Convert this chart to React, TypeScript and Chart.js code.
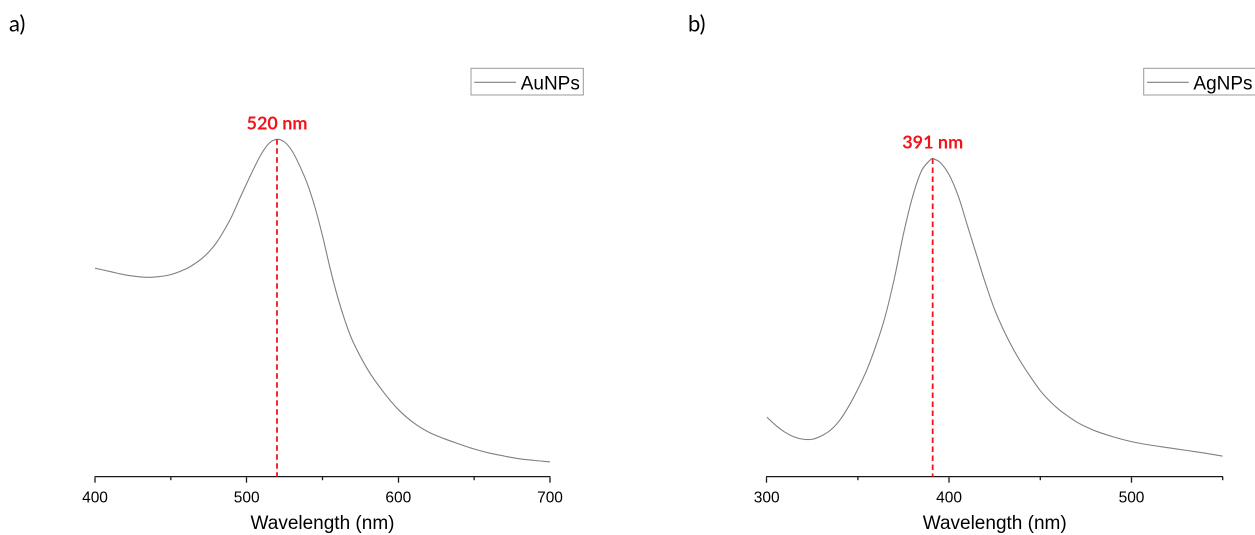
import React, { useEffect, useRef } from 'react';
import { Chart, registerables } from 'chart.js';

Chart.register(...registerables);

// ---- Data ----
const auWavelengths = [400, 410, 420, 430, 435, 440, 450, 460, 465, 470, 475, 480, 485, 490, 495, 500, 505, 510, 515, 520, 525, 530, 535, 540, 545, 550, 555, 560, 565, 570, 580, 590, 600, 610, 620, 630, 640, 650, 660, 670, 680, 690, 700];
const auAbsorbance = [0.618, 0.608, 0.598, 0.592, 0.591, 0.592, 0.599, 0.616, 0.629, 0.645, 0.666, 0.693, 0.729, 0.77, 0.82, 0.869, 0.916, 0.959, 0.989, 1.0, 0.992, 0.965, 0.921, 0.868, 0.799, 0.714, 0.618, 0.532, 0.46, 0.401, 0.316, 0.252, 0.199, 0.16, 0.132, 0.113, 0.097, 0.082, 0.07, 0.061, 0.053, 0.048, 0.044];

const agWavelengths = [300, 305, 310, 315, 320, 325, 330, 335, 340, 345, 350, 355, 360, 365, 370, 375, 380, 385, 390, 391, 395, 400, 405, 410, 415, 420, 425, 430, 435, 440, 445, 450, 455, 460, 465, 470, 475, 480, 490, 500, 510, 520, 530, 540, 550];
const agAbsorbance = [0.177, 0.152, 0.132, 0.118, 0.111, 0.111, 0.121, 0.138, 0.167, 0.209, 0.26, 0.318, 0.39, 0.476, 0.588, 0.72, 0.83, 0.908, 0.941, 0.943, 0.932, 0.895, 0.832, 0.745, 0.658, 0.572, 0.495, 0.433, 0.38, 0.334, 0.293, 0.255, 0.225, 0.2, 0.18, 0.162, 0.148, 0.136, 0.118, 0.104, 0.094, 0.086, 0.078, 0.07, 0.061];

const auMajorTicks = [400, 500, 600, 700];
const auMinorTicks = [450, 550, 650];
const agMajorTicks = [300, 400, 500];
const agMinorTicks = [350, 450, 550];

const auPeak = 520;
const agPeak = 391;
const auPeakLabel = '520 nm';
const agPeakLabel = '391 nm';
const auLegend = 'AuNPs';
const agLegend = 'AgNPs';
const xTitle = 'Wavelength (nm)';

// ---- Layout ----
const H = 535;
const AXIS_Y = 476.7;
const Y_MAX = 1.2;
const Y_UNIT = 337.4;
const TOP_PAD = AXIS_Y - Y_MAX * Y_UNIT;

type Spec = {
  wl: number[];
  abs: number[];
  xMin: number;
  xMax: number;
  major: number[];
  minor: number[];
  peak: number;
  peakLabel: string;
  legend: string;
  panel: string;
  panelX: number;
  width: number;
  padLeft: number;
  padRight: number;
};

const AXIS_COLOR = '#1a1a1a';
const CURVE_COLOR = '#808080';
const RED = '#f5101a';

function makeConfig(spec: Spec): any {
  const overlay = {
    id: 'overlay_' + spec.panel,
    afterDraw(chart: any) {
      const ctx = chart.ctx;
      const xs = chart.scales.x;
      const ys = chart.scales.y;
      const area = chart.chartArea;
      ctx.save();
      // minor ticks
      ctx.strokeStyle = AXIS_COLOR;
      ctx.lineWidth = 1.3;
      spec.minor.forEach((v) => {
        const x = xs.getPixelForValue(v);
        ctx.beginPath();
        ctx.moveTo(x, area.bottom);
        ctx.lineTo(x, area.bottom + 3.5);
        ctx.stroke();
      });
      // peak marker
      const idx = spec.wl.indexOf(spec.peak);
      const px = xs.getPixelForValue(spec.peak);
      const py = ys.getPixelForValue(spec.abs[idx]);
      ctx.strokeStyle = RED;
      ctx.lineWidth = 1.8;
      ctx.setLineDash([5.5, 3.5]);
      ctx.beginPath();
      ctx.moveTo(px, py);
      ctx.lineTo(px, area.bottom);
      ctx.stroke();
      ctx.setLineDash([]);
      ctx.fillStyle = RED;
      ctx.font = 'bold 18px Lato';
      ctx.textAlign = 'center';
      ctx.textBaseline = 'alphabetic';
      ctx.fillText(spec.peakLabel, px, py - 10);
      // legend box
      const bx = area.right - 79;
      const by = 68.3;
      ctx.strokeStyle = '#9a9a9a';
      ctx.lineWidth = 1;
      ctx.strokeRect(bx, by, 112.3, 26.7);
      ctx.strokeStyle = CURVE_COLOR;
      ctx.lineWidth = 1.1;
      ctx.beginPath();
      ctx.moveTo(bx + 3.3, by + 14);
      ctx.lineTo(bx + 45, by + 14);
      ctx.stroke();
      ctx.fillStyle = '#000';
      ctx.font = '19px "Liberation Sans"';
      ctx.textAlign = 'left';
      ctx.fillText(spec.legend, bx + 49.7, by + 21);
      // panel letter
      ctx.font = '22px Lato';
      ctx.fillText(spec.panel, spec.panelX, 31.7);
      ctx.restore();
    },
  };

  return {
    type: 'line',
    data: {
      datasets: [
        {
          label: spec.legend,
          data: spec.wl.map((w, i) => ({ x: w, y: spec.abs[i] })),
          borderColor: CURVE_COLOR,
          borderWidth: 1.1,
          pointRadius: 0,
          fill: false,
          tension: 0.35,
        },
      ],
    },
    options: {
      animation: false,
      responsive: true,
      maintainAspectRatio: false,
      devicePixelRatio: 2,
      layout: { padding: { left: spec.padLeft, right: spec.padRight, top: TOP_PAD, bottom: 0 } },
      plugins: { legend: { display: false }, tooltip: { enabled: false } },
      scales: {
        x: {
          type: 'linear',
          min: spec.xMin,
          max: spec.xMax,
          afterBuildTicks: (s: any) => {
            s.ticks = spec.major.map((v) => ({ value: v }));
          },
          afterFit: (s: any) => {
            s.height = H - AXIS_Y;
          },
          border: { display: true, color: AXIS_COLOR, width: 1.3 },
          grid: {
            display: true,
            drawOnChartArea: false,
            drawTicks: true,
            tickLength: 6,
            tickColor: AXIS_COLOR,
            tickWidth: 1.3,
          },
          ticks: {
            autoSkip: false,
            maxRotation: 0,
            padding: 6,
            color: '#000',
            font: { family: '"Liberation Sans", Arial, sans-serif', size: 15.5 },
          },
          title: {
            display: true,
            text: xTitle,
            color: '#000',
            font: { family: '"Liberation Sans", Arial, sans-serif', size: 19 },
            padding: { top: 0, bottom: 0 },
          },
        },
        y: { display: false, min: 0, max: Y_MAX },
      },
    },
    plugins: [overlay],
  };
}

const auSpec: Spec = {
  wl: auWavelengths,
  abs: auAbsorbance,
  xMin: 400,
  xMax: 700,
  major: auMajorTicks,
  minor: auMinorTicks,
  peak: auPeak,
  peakLabel: auPeakLabel,
  legend: auLegend,
  panel: 'a)',
  panelX: 9,
  width: 627,
  padLeft: 95,
  padRight: 627 - 550,
};

const agSpec: Spec = {
  wl: agWavelengths,
  abs: agAbsorbance,
  xMin: 300,
  xMax: 550,
  major: agMajorTicks,
  minor: agMinorTicks,
  peak: agPeak,
  peakLabel: agPeakLabel,
  legend: agLegend,
  panel: 'b)',
  panelX: 688 - 627,
  width: 628,
  padLeft: 766.7 - 627,
  padRight: 1255 - 1222.7,
};

export default function App() {
  const refA = useRef<HTMLCanvasElement>(null);
  const refB = useRef<HTMLCanvasElement>(null);

  useEffect(() => {
    const a = new Chart(refA.current as HTMLCanvasElement, makeConfig(auSpec));
    const b = new Chart(refB.current as HTMLCanvasElement, makeConfig(agSpec));
    return () => {
      a.destroy();
      b.destroy();
    };
  }, []);

  return (
    <div style={{ position: 'absolute', left: 0, top: 0, width: 1255, height: H, background: '#fff', overflow: 'hidden' }}>
      <div style={{ position: 'absolute', left: 0, top: 0, width: auSpec.width, height: H }}>
        <canvas ref={refA} />
      </div>
      <div style={{ position: 'absolute', left: 627, top: 0, width: agSpec.width, height: H }}>
        <canvas ref={refB} />
      </div>
    </div>
  );
}
